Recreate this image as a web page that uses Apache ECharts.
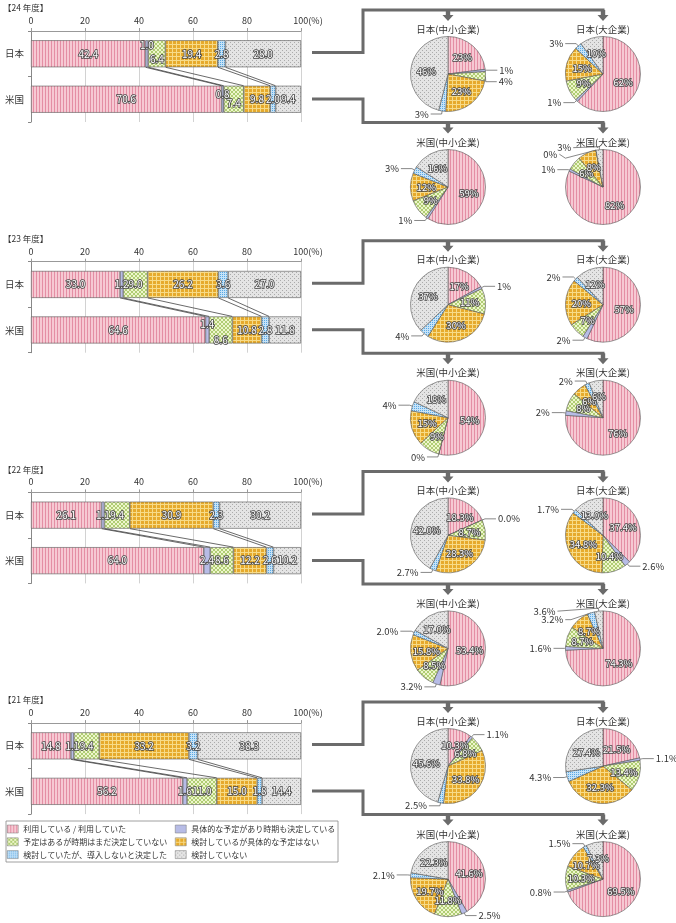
<!DOCTYPE html>
<html><head><meta charset="utf-8">
<script src="https://cdn.jsdelivr.net/npm/echarts@6/dist/echarts.min.js"></script>
<style>html,body{margin:0;padding:0;background:#fff}#c{width:676px;height:923px}</style>
</head><body><div id="c"></div>
<script>
// ---------- data ----------
const categories = ['日本', '米国'];
const seriesNames = ['利用している / 利用していた', '具体的な予定があり時期も決定している', '予定はあるが時期はまだ決定していない', '検討しているが具体的な予定はない', '検討していたが、導入しないと決定した', '検討していない'];
const yearLabels = ['【24 年度】', '【23 年度】', '【22 年度】', '【21 年度】'];
const pieTitles = ['日本(中小企業)', '日本(大企業)', '米国(中小企業)', '米国(大企業)'];
const xTicks = [0, 20, 40, 60, 80, 100];

const bar24Japan = [42.4, 1.0, 6.4, 19.4, 2.8, 28.0];
const bar24US    = [70.6, 0.8, 7.4, 9.8, 2.0, 9.4];
const bar23Japan = [33.0, 1.2, 9.0, 26.2, 3.6, 27.0];
const bar23US    = [64.6, 1.4, 8.6, 10.8, 2.8, 11.8];
const bar22Japan = [26.1, 1.1, 9.4, 30.9, 2.3, 30.2];
const bar22US    = [64.0, 2.4, 8.6, 12.2, 2.6, 10.2];
const bar21Japan = [14.8, 1.1, 9.4, 33.2, 3.2, 38.3];
const bar21US    = [56.2, 1.6, 11.0, 15.0, 1.8, 14.4];

const pie24JapanSME   = [23, 1, 4, 23, 3, 46];
const pie24JapanLarge = [62, 1, 9, 15, 3, 10];
const pie24USSME      = [59, 1, 9, 12, 3, 16];
const pie24USLarge    = [82, 1, 6, 8, 0, 3];
const pie23JapanSME   = [17, 1, 11, 30, 4, 37];
const pie23JapanLarge = [57, 2, 7, 20, 2, 12];
const pie23USSME      = [54, 0, 9, 15, 4, 18];
const pie23USLarge    = [76, 2, 8, 6, 2, 6];
const pie22JapanSME   = [18.3, 0.0, 8.7, 28.3, 2.7, 42.0];
const pie22JapanLarge = [37.4, 2.6, 10.4, 34.8, 1.7, 13.0];
const pie22USSME      = [53.4, 3.2, 8.5, 15.8, 2.0, 17.0];
const pie22USLarge    = [74.3, 1.6, 8.7, 8.7, 3.2, 3.6];
const pie21JapanSME   = [10.3, 1.1, 6.8, 33.8, 2.5, 45.6];
const pie21JapanLarge = [21.5, 1.1, 13.4, 32.3, 4.3, 27.4];
const pie21USSME      = [41.6, 2.5, 11.8, 19.7, 2.1, 22.3];
const pie21USLarge    = [69.5, 0.8, 10.3, 10.7, 1.5, 7.3];

// ---------- structure (built from the arrays above) ----------
const blocks = [
  { bars: [bar24Japan, bar24US], pies: [pie24JapanSME, pie24JapanLarge, pie24USSME, pie24USLarge], dec: 0 },
  { bars: [bar23Japan, bar23US], pies: [pie23JapanSME, pie23JapanLarge, pie23USSME, pie23USLarge], dec: 0 },
  { bars: [bar22Japan, bar22US], pies: [pie22JapanSME, pie22JapanLarge, pie22USSME, pie22USLarge], dec: 1 },
  { bars: [bar21Japan, bar21US], pies: [pie21JapanSME, pie21JapanLarge, pie21USSME, pie21USLarge], dec: 1 }
];

// ---------- styles ----------
const FONT = '"Noto Sans CJK JP", "Noto Sans", sans-serif';
const BLOCK_STEP = 230.7;
const BAR_W = 27;
const barLabelShift = { '0-0-1': [0, -9], '0-0-2': [0, 5], '0-1-1': [0, -5], '0-1-2': [0, 4], '1-1-1': [0, -6], '1-1-2': [0, 10] };
const pieLabelShift = { '0-3-5': [-15, 1], '0-3-4': [-6, -4], '2-3-5': [-30, 3] };

function pattern(w, h, base, fg, pts) {
  const c = document.createElement('canvas');
  c.width = w; c.height = h;
  const ctx = c.getContext('2d');
  ctx.fillStyle = base; ctx.fillRect(0, 0, w, h);
  ctx.fillStyle = fg;
  pts.forEach(p => ctx.fillRect(p[0], p[1], 1, 1));
  return { image: c, repeat: 'repeat' };
}
const fills = [
  pattern(3, 1, '#F6C9D3', '#E48EA4', [[0, 0]]),
  '#B7BCE6',
  pattern(4, 4, '#EEF6CC', '#B0CD74', [[0, 0], [1, 1], [2, 2], [3, 3], [3, 0], [2, 1], [1, 2], [0, 3]]),
  pattern(4, 4, '#E6AA2C', '#F7DB88', [[0, 0], [1, 0], [2, 0], [3, 0], [0, 1], [0, 2], [0, 3]]),
  pattern(2, 2, '#C6E3F8', '#5AA8E4', [[0, 0]]),
  pattern(4, 4, '#E4E4E4', '#ABABAB', [[0, 0], [2, 2]])
];

const inLabel = { fontSize: 10, color: '#fff', textBorderColor: '#444', textBorderWidth: 1.6, fontFamily: FONT };

const grids = [], xAxes = [], yAxes = [], series = [], graphics = [];
const pieCenters = [[448, 74], [603, 74], [448, 187], [603, 187]];
const cum = arr => { let s = 0; return arr.map(v => (s += v)); };

blocks.forEach((b, i) => {
  const o = i * BLOCK_STEP;
  grids.push({ left: 31, top: 31 + o, width: 270, height: 91 });
  xAxes.push({
    gridIndex: i, type: 'value', position: 'top', min: xTicks[0], max: xTicks[xTicks.length - 1], interval: 20,
    axisLine: { show: true, lineStyle: { color: '#999', width: 1 } },
    axisTick: { show: true, length: 3, lineStyle: { color: '#999' } },
    axisLabel: { fontSize: 9, color: '#333', margin: 6, fontFamily: FONT,
      formatter: v => v === 100 ? '{pad|}100(%)' : String(v), rich: { pad: { width: 14 } } },
    splitLine: { show: true, lineStyle: { color: '#d2d2d2', width: 1 } }
  });
  yAxes.push({
    gridIndex: i, type: 'category', data: categories, inverse: true,
    axisLine: { show: true, lineStyle: { color: '#888' } },
    axisTick: { show: true, length: 3, lineStyle: { color: '#888' } },
    axisLabel: { fontSize: 9.5, color: '#333', margin: 7, fontFamily: FONT },
    splitLine: { show: false }
  });
  seriesNames.forEach((name, k) => {
    series.push({
      type: 'bar', name, xAxisIndex: i, yAxisIndex: i, stack: 'st' + i, barWidth: BAR_W,
      itemStyle: { color: fills[k], borderColor: '#555', borderWidth: 0.6 },
      label: Object.assign({ show: true, position: 'inside', formatter: p => p.value.toFixed(1) }, inLabel),
      emphasis: { disabled: true },
      data: b.bars.map((arr, r) => {
        const sh = barLabelShift[i + '-' + r + '-' + k];
        return sh ? { value: arr[k], label: { offset: sh } } : { value: arr[k] };
      })
    });
  });
  const cj = cum(b.bars[0]), cu = cum(b.bars[1]);
  series.push({
    type: 'custom', xAxisIndex: i, yAxisIndex: i, silent: true, z: 5, clip: false,
    dimensions: ['jp', 'cat', 'us'], encode: { x: 0, y: 1 },
    data: cj.slice(0, 5).map((v, k) => [v, 0, cu[k]]),
    renderItem: (params, api) => {
      const p1 = api.coord([api.value(0), 0]);
      const p2 = api.coord([api.value(2), 1]);
      return { type: 'line', shape: { x1: p1[0], y1: p1[1] + BAR_W / 2, x2: p2[0], y2: p2[1] - BAR_W / 2 },
        style: { stroke: '#444', lineWidth: 0.8 } };
    }
  });
  b.pies.forEach((vals, j) => {
    series.push({
      type: 'pie', radius: 37.5, center: [pieCenters[j][0], pieCenters[j][1] + o],
      startAngle: 90, clockwise: true, avoidLabelOverlap: true, emphasis: { disabled: true },
      itemStyle: { borderColor: '#555', borderWidth: 0.6 },
      label: { formatter: p => p.value.toFixed(b.dec) + '%', fontFamily: FONT, fontSize: 9.5, overflow: 'none' },
      labelLine: { length: 3, length2: 11, lineStyle: { color: '#555', width: 0.7 } },
      labelLayout: p => {
        const s = pieLabelShift[i + '-' + j + '-' + p.dataIndex];
        if (!s) return {};
        const out = { dx: s[0], dy: s[1] };
        if (p.labelLinePoints) {
          const pts = p.labelLinePoints.map(q => q.slice());
          const last = pts[pts.length - 1];
          last[0] += s[0]; last[1] += s[1];
          out.labelLinePoints = pts;
        }
        return out;
      },
      data: vals.map((v, k) => ({
        name: seriesNames[k], value: v, itemStyle: { color: fills[k] },
        label: v >= 5 ? Object.assign({ position: 'inside' }, inLabel, { fontSize: 9.5 })
                      : { position: 'outside', color: '#333', fontSize: 9.5, distanceToLabelLine: 2, overflow: 'none' },
        labelLine: { show: v < 5 }
      }))
    });
  });
  // titles
  graphics.push({ type: 'text', x: 3, y: 8 + o, z: 10,
    style: { text: yearLabels[i], font: '8.5px ' + FONT, fill: '#333', align: 'left', verticalAlign: 'middle' } });
  pieTitles.forEach((t, j) => {
    graphics.push({ type: 'text', x: pieCenters[j][0], y: (j < 2 ? 29 : 142) + o, z: 10,
      style: { text: t, font: '9.5px ' + FONT, fill: '#333', align: 'center', verticalAlign: 'middle' } });
  });
  // gray connectors
  const lineStyle = { stroke: '#6B6B6B', lineWidth: 3, fill: null };
  graphics.push({ type: 'polyline', z: 4, shape: { points: [[312, 52.5 + o], [363, 52.5 + o], [363, 10 + o], [604.5, 10 + o]] }, style: lineStyle });
  graphics.push({ type: 'polyline', z: 4, shape: { points: [[312, 99 + o], [363, 99 + o], [363, 122.5 + o], [604.5, 122.5 + o]] }, style: lineStyle });
  [[448, 10], [603, 10], [448, 122.5], [603, 122.5]].forEach(a => {
    const x = a[0], y = a[1] + o;
    graphics.push({ type: 'polygon', z: 4,
      shape: { points: [[x - 2.2, y], [x + 2.2, y], [x + 2.2, y + 5], [x + 5.5, y + 5], [x, y + 11], [x - 5.5, y + 5], [x - 2.2, y + 5]] },
      style: { fill: '#6B6B6B' } });
  });
});

graphics.push({ type: 'rect', z: 1, shape: { x: 6, y: 821, width: 332, height: 41 }, style: { stroke: '#888', lineWidth: 0.8, fill: null } });

const legendBase = {
  orient: 'vertical', top: 824, padding: 0, itemWidth: 11, itemHeight: 8, itemGap: 2.8, icon: 'rect',
  selectedMode: false, itemStyle: { borderColor: '#777', borderWidth: 0.5 },
  textStyle: { fontSize: 8, lineHeight: 10, color: '#333', fontFamily: FONT }
};

const chart = echarts.init(document.getElementById('c'), null, { renderer: 'canvas' });
chart.setOption({
  animation: false,
  textStyle: { fontFamily: FONT },
  grid: grids, xAxis: xAxes, yAxis: yAxes, series,
  legend: [
    Object.assign({}, legendBase, { left: 7, data: [seriesNames[0], seriesNames[2], seriesNames[4]] }),
    Object.assign({}, legendBase, { left: 175, data: [seriesNames[1], seriesNames[3], seriesNames[5]] })
  ],
  graphic: graphics
});
</script></body></html>
